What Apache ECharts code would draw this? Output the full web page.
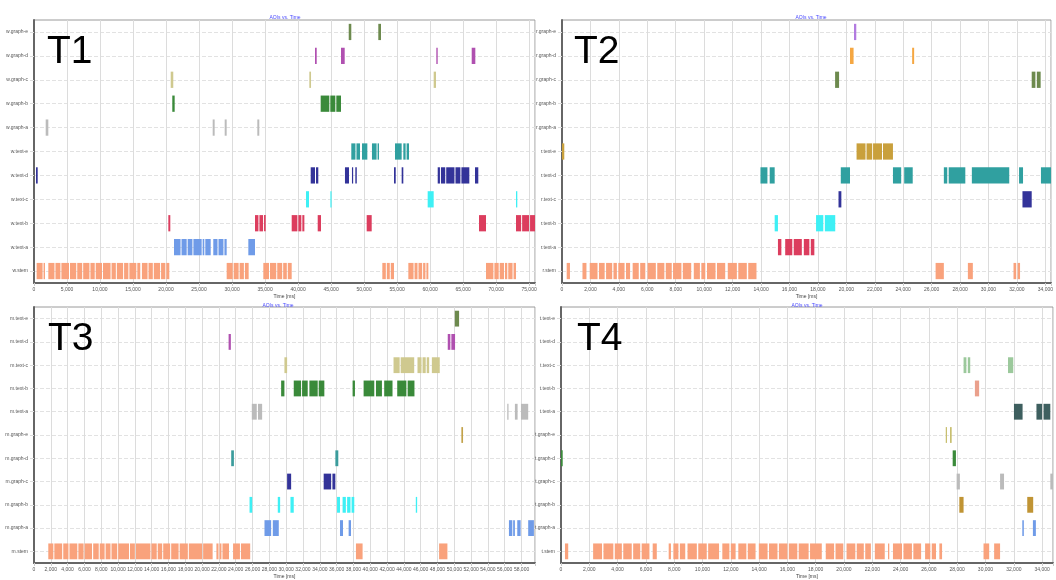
<!DOCTYPE html>
<html lang="en">
<head>
<meta charset="utf-8">
<title>AOIs vs. Time</title>
<script src="https://cdn.jsdelivr.net/npm/echarts/dist/echarts.min.js"></script>
</head>
<body style="margin: 0">
<div id="container" style="width: 1056px; height: 580px"></div>
<script>
// categories, bottom to top, per panel
var t1Cats = ['w.stem', 'w.text-a', 'w.text-b', 'w.text-c', 'w.text-d', 'w.text-e',
  'w.graph-a', 'w.graph-b', 'w.graph-c', 'w.graph-d', 'w.graph-e'];
var t2Cats = ['r.stem', 'r.text-a', 'r.text-b', 'r.text-c', 'r.text-d', 'r.text-e',
  'r.graph-a', 'r.graph-b', 'r.graph-c', 'r.graph-d', 'r.graph-e'];
var t3Cats = ['m.stem', 'm.graph-a', 'm.graph-b', 'm.graph-c', 'm.graph-d', 'm.graph-e',
  'm.text-a', 'm.text-b', 'm.text-c', 'm.text-d', 'm.text-e'];
var t4Cats = ['t.stem', 't.graph-a', 't.graph-b', 't.graph-c', 't.graph-d', 't.graph-e',
  't.text-a', 't.text-b', 't.text-c', 't.text-d', 't.text-e'];

// fixation intervals [start, end] in ms, one list per category (same order as above)
var t1Intervals = [
  [[400,1300],[1450,1670],[2170,3100],[3250,4000],[4150,5300],[5450,6400],[6550,7300],[7450,8400],
   [8550,9200],[9350,10300],[10450,11600],[11750,12400],[12550,13500],[13650,14300],[14450,15500],
   [15650,16100],[16350,17200],[17350,18000],[18150,19100],[19250,19900],[20050,20500],
   [29190,30100],[30250,31000],[31150,31800],[31950,32520],
   [34740,35600],[35750,36700],[36850,37600],[37750,38300],[38450,39040],
   [52770,53300],[53450,53900],[54050,54540],
   [56710,57500],[57650,58100],[58250,58800],[58950,59300],[59450,59740],
   [68480,69600],[69750,70400],[70550,71200],[71350,71700],[71850,72500],[72650,73020]],
  [[21210,22200],[22350,23130],[23280,24000],[24150,25400],[25550,25800],[25950,26770],
   [27160,27800],[27950,28700],[28850,29190],[32470,33480]],
  [[20350,20650],[33480,34000],[34150,34700],[34850,35100],[39040,39900],[40050,40500],[40650,40960],
   [42980,43480],[50400,51160],[67420,68480],[73020,73800],[73950,75000],[75150,75940]],
  [[41210,41660],[44900,45000],[59640,60550],[73020,73220]],
  [[300,560],[41920,42570],[42720,43070],[47110,47720],[48170,48300],[48680,48900],[54540,54800],
   [55700,55950],[61160,61500],[61650,62300],[62450,63700],[63850,64600],[64750,65950],[66810,67310]],
  [[48070,48700],[48850,49390],[49690,50500],[51200,51900],[52050,52270],[54690,55700],
   [55950,56300],[56450,56810]],
  [[1770,2170],[27070,27370],[28890,29190],[33830,34130]],
  [[20950,21310],[43430,44740],[44890,45650],[45800,46510]],
  [[20710,21100],[41710,41970],[60550,60900]],
  [[42570,42830],[46510,47070],[60950,61160],[66310,66860]],
  [[47680,48070],[52160,52570]]
];
var t2Intervals = [
  [[330,560],[1440,1720],[1950,2500],[2600,3000],[3100,3530],[3620,3860],[3960,4400],[4500,4790],
   [4970,5400],[5500,5860],[6020,6600],[6700,7200],[7300,7720],[7810,8400],[8500,9090],[9270,9700],
   [9800,10080],[10200,10800],[10900,11480],[11660,12300],[12400,13000],[13100,13680],
   [26280,26860],[28550,28900],[31760,31950],[32050,32220]],
  [[15190,15430],[15700,16200],[16300,16870],[17010,17400],[17500,17750]],
  [[14960,15190],[17870,18380],[18490,19220]],
  [[19450,19650],[32390,33040]],
  [[13960,14450],[14610,14960],[19610,20260],[23280,23860],[24070,24670],[26860,27100],[27200,28370],
   [28830,31460],[32150,32430],[33690,34430]],
  [[0,160],[20720,21350],[21420,21820],[21880,22510],[22580,23280]],
  [],
  [],
  [[19210,19490],[33040,33300],[33400,33670]],
  [[20260,20510],[24630,24770]],
  [[20540,20700]]
];
var t3Intervals = [
  [[1700,2300],[2420,3350],[3480,4100],[4220,5150],[5280,5900],[6020,6900],[7040,7700],[7820,8400],
   [8520,9100],[9220,9900],[10020,11300],[11420,12000],[12120,13850],[13970,14600],[14720,15250],
   [15370,16200],[16320,17200],[17330,18300],[18420,20000],[20120,21250],[21700,21950],[22080,22300],
   [22420,23200],[23680,24500],[24620,25720],[38300,39090],[48190,49180]],
  [[27420,28210],[28410,29120],[36400,36760],[37430,37710],[56500,56900],[57000,57210],[57490,57890],
   [58790,59470]],
  [[25640,25960],[29000,29280],[30510,30900],[36050,36400],[36710,37100],[37250,37650],[37780,38100],
   [45420,45580]],
  [[30110,30590],[34460,35350],[35500,35850]],
  [[23460,23780],[35850,36200]],
  [[50840,51040]],
  [[25910,26500],[26650,27140],[56300,56450],[57210,57530],[57930,58790]],
  [[29400,29790],[30900,31770],[31890,32560],[32760,33750],[33870,34540],[37900,38180],[39210,40480],
   [40680,41390],[41660,42650],[43210,44300],[44450,45260]],
  [[29790,30110],[42770,43500],[43620,45230],[45620,46100],[46220,46600],[46720,47010],[47330,48270]],
  [[23150,23420],[49220,49530],[49650,50090]],
  [[50060,50570]]
];
var t4Intervals = [
  [[280,510],[2270,2900],[3000,3700],[3800,4300],[4400,5000],[5100,5600],[5700,6250],[6480,6770],
   [7610,7770],[7940,8300],[8400,8780],[8940,9600],[9700,10300],[10400,11170],[11400,11900],
   [12000,12340],[12530,13100],[13200,13750],[13980,14600],[14700,15300],[15400,16000],[16100,16700],
   [16800,17500],[17600,18430],[18710,19300],[19400,19950],[20180,20800],[20900,21400],[21500,21900],
   [22180,22880],[23110,23200],[23460,24100],[24200,24800],[24900,25450],[25730,26100],[26200,26500],
   [26740,26930],[29860,30260],[30610,31030]],
  [[32600,32710],[33350,33560]],
  [[28150,28450],[32950,33370]],
  [[27960,28190],[31030,31310],[34580,34770]],
  [[0,120],[27680,27910]],
  [[27190,27280],[27490,27610]],
  [[32010,32620],[33600,34000],[34100,34580]],
  [[29250,29550]],
  [[28450,28650],[28750,28920],[31590,31960]],
  [],
  []
];

// axis extents and tick step per panel
var xMax = [75900, 34400, 59600, 34770];
var xStep = [5000, 2000, 2000, 2000];

// colours per category
var t1Colors = ['#f9a27c', '#6f9be8', '#dc3d5e', '#3ef0f5', '#333399', '#30a0a0',
  '#bbbbbb', '#3a8a3a', '#cfc98f', '#b050b0', '#6d8a4e'];
var t2Colors = ['#f9a27c', '#dc3d5e', '#3ef0f5', '#333399', '#30a0a0', '#c9a03c',
  '#bbbbbb', '#3a8a3a', '#6d8a4e', '#f5a742', '#b27be0'];
var t3Colors = ['#f9a27c', '#6f9be8', '#3ef0f5', '#333399', '#3b9c9c', '#c2a24a',
  '#bbbbbb', '#3a8a3a', '#cfc98f', '#b050b0', '#6d8a4e'];
var t4Colors = ['#f9a27c', '#6f9be8', '#c09434', '#bbbbbb', '#3a8a3a', '#c8bf70',
  '#3e5f5f', '#eaa08c', '#9cc99c', '#bbbbbb', '#bbbbbb'];

var panels = [
  { cats: t1Cats, ints: t1Intervals, colors: t1Colors, label: 'T1' },
  { cats: t2Cats, ints: t2Intervals, colors: t2Colors, label: 'T2' },
  { cats: t3Cats, ints: t3Intervals, colors: t3Colors, label: 'T3' },
  { cats: t4Cats, ints: t4Intervals, colors: t4Colors, label: 'T4' }
];

var grids = [
  { left: 34, top: 20, width: 501, height: 263 },
  { left: 562, top: 20, width: 496, height: 263 },
  { left: 34, top: 307, width: 501, height: 261 },
  { left: 561, top: 307, width: 497, height: 261 }
];
var titlePos = [[280, 10], [806, 10], [273, 298], [802, 298]];
var bigPos = [[42, 28], [569, 28], [43, 315], [572, 315]];

function makeRender(colors) {
  return function (params, api) {
    var cat = api.value(2);
    var a = api.coord([api.value(0), cat]);
    var b = api.coord([api.value(1), cat]);
    var h = api.size([0, 1])[1] * 0.68;
    var rect = echarts.graphic.clipRectByRect(
      { x: a[0], y: a[1] - h / 2, width: Math.max(b[0] - a[0], 1.2), height: h },
      { x: params.coordSys.x, y: params.coordSys.y, width: params.coordSys.width, height: params.coordSys.height }
    );
    return rect && { type: 'rect', shape: rect, style: { fill: colors[cat] } };
  };
}

var option = {
  animation: false,
  backgroundColor: '#fff',
  title: [],
  grid: [],
  xAxis: [],
  yAxis: [],
  series: []
};

panels.forEach(function (p, i) {
  option.title.push({
    text: 'AOIs vs. Time', left: titlePos[i][0], top: titlePos[i][1], textAlign: 'center',
    textStyle: { fontSize: 5, fontWeight: 'normal', color: '#4a4aff' }
  });
  option.title.push({
    text: p.label, left: bigPos[i][0], top: bigPos[i][1],
    textStyle: { fontSize: 39, fontWeight: 'normal', color: '#000', fontFamily: 'Liberation Sans' }
  });
  option.grid.push(Object.assign({ show: true, borderColor: '#9a9a9a', borderWidth: 1, containLabel: false }, grids[i]));
  option.xAxis.push({
    type: 'value', gridIndex: i, min: 0, max: xMax[i], interval: xStep[i],
    name: 'Time [ms]', nameLocation: 'middle', nameGap: 11,
    nameTextStyle: { fontSize: 5, color: '#444' },
    axisLine: { show: true, lineStyle: { color: '#666', width: 2 } },
    axisTick: { show: true, length: 3, lineStyle: { color: '#ccc' } },
    axisLabel: {
      fontSize: 5, color: '#555', margin: 4,
      formatter: function (v) { return v % xStep[i] === 0 ? v.toLocaleString('en-US') : ''; }
    },
    splitLine: { show: true, lineStyle: { color: '#dcdcdc', width: 1 } }
  });
  option.yAxis.push({
    type: 'category', gridIndex: i, data: p.cats,
    axisLine: { show: true, lineStyle: { color: '#666', width: 2 } },
    axisTick: { show: true, alignWithLabel: true, length: 4, lineStyle: { color: '#ddd' } },
    axisLabel: { fontSize: 5, color: '#555', margin: 6 },
    splitLine: { show: true, alignWithLabel: true, lineStyle: { color: '#e2e2e2', type: 'dashed', width: 1 } }
  });
  var data = [];
  p.ints.forEach(function (row, r) {
    row.forEach(function (iv) { data.push([iv[0], iv[1], r]); });
  });
  option.series.push({
    type: 'custom', xAxisIndex: i, yAxisIndex: i,
    renderItem: makeRender(p.colors),
    encode: { x: [0, 1], y: 2 },
    data: data
  });
});

var myChart = echarts.init(document.getElementById('container'));
myChart.setOption(option);
</script>
</body>
</html>
